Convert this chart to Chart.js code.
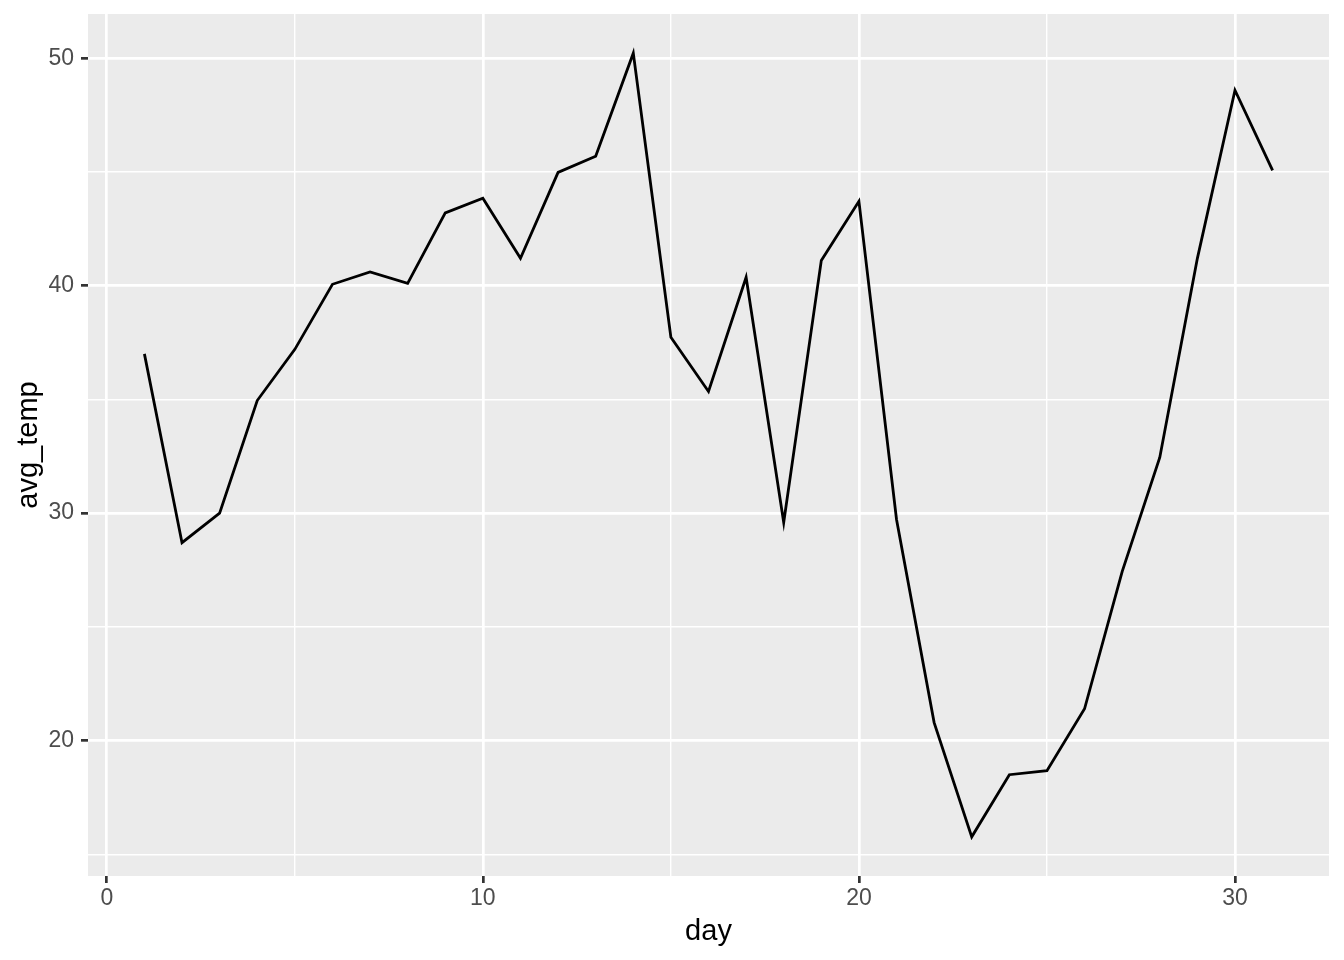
<!DOCTYPE html>
<html>
<head>
<meta charset="utf-8">
<script src="https://cdn.jsdelivr.net/npm/chart.js@4"></script>
<style>
  html, body { margin: 0; padding: 0; background: #fff; }
</style>
</head>
<body>
<canvas id="avg" width="1344" height="960"></canvas>
<script>
var days = [1,2,3,4,5,6,7,8,9,10,11,12,13,14,15,16,17,18,19,20,21,22,23,24,25,26,27,28,29,30,31];
var avgTemp = [37.0, 28.7, 30.0, 34.95, 37.2, 40.06, 40.6, 40.1, 43.2, 43.84, 41.2, 44.98, 45.69, 50.22, 37.73, 35.35,
               40.37, 29.59, 41.11, 43.71, 29.72, 20.79, 15.77, 18.5, 18.68, 21.4, 27.43, 32.45, 41.2, 48.59, 45.07];
var xTicks = [0, 5, 10, 15, 20, 25, 30];
var yTicks = [15, 20, 25, 30, 35, 40, 45, 50];

// ggplot style 5% expansion
var xLo = Math.min.apply(null, days), xHi = Math.max.apply(null, days);
var yLo = Math.min.apply(null, avgTemp), yHi = Math.max.apply(null, avgTemp);
var xPad = (xHi - xLo) * 0.05, yPad = (yHi - yLo) * 0.05;

var points = days.map(function(d, i) { return { x: d, y: avgTemp[i] }; });

var panelBg = {
  id: 'panelBg',
  beforeDraw: function(chart) {
    var a = chart.chartArea, c = chart.ctx;
    c.save();
    c.fillStyle = '#EBEBEB';
    c.fillRect(a.left, a.top, a.right - a.left, a.bottom - a.top);
    c.restore();
  }
};

function isMajor(ctx) { return ctx.tick && ctx.tick.value % 10 === 0; }

var tickFont = { family: '"Liberation Sans", Arial, Helvetica, sans-serif', size: 23 };
var titleFont = { family: '"Liberation Sans", Arial, Helvetica, sans-serif', size: 29 };

var gridOpts = {
  color: '#FFFFFF',
  lineWidth: function(ctx) { return isMajor(ctx) ? 2.7 : 1.4; },
  tickColor: function(ctx) { return isMajor(ctx) ? '#333333' : 'rgba(0,0,0,0)'; },
  tickWidth: 2.7,
  tickLength: 7,
  drawTicks: true
};

new Chart(document.getElementById('avg'), {
  type: 'line',
  data: {
    datasets: [{
      data: points,
      borderColor: '#000000',
      borderWidth: 2.8,
      pointRadius: 0,
      tension: 0,
      fill: false
    }]
  },
  plugins: [panelBg],
  options: {
    responsive: false,
    animation: false,
    layout: { padding: { top: 14, right: 15, left: 0, bottom: 0 } },
    plugins: { legend: { display: false }, tooltip: { enabled: false } },
    scales: {
      x: {
        type: 'linear',
        min: xLo - xPad,
        max: xHi + xPad,
        afterBuildTicks: function(s) { s.ticks = xTicks.map(function(v) { return { value: v }; }); },
        afterFit: function(s) { s.height = 84; s.paddingLeft = 0; s.paddingRight = 0; },
        grid: gridOpts,
        border: { display: false },
        ticks: {
          color: '#4D4D4D',
          font: tickFont,
          padding: 2,
          maxRotation: 0,
          callback: function(v) { return v % 10 === 0 ? String(v) : ''; }
        },
        title: { display: true, text: 'day', color: '#000000', font: titleFont, padding: { top: 0, bottom: 11 } }
      },
      y: {
        type: 'linear',
        min: yLo - yPad,
        max: yHi + yPad,
        afterBuildTicks: function(s) { s.ticks = yTicks.map(function(v) { return { value: v }; }); },
        afterFit: function(s) { s.width = 88; s.paddingTop = 0; s.paddingBottom = 0; },
        grid: gridOpts,
        border: { display: false },
        ticks: {
          color: '#4D4D4D',
          font: tickFont,
          padding: 7,
          callback: function(v) { return v % 10 === 0 ? String(v) : ''; }
        },
        title: { display: true, text: 'avg_temp', color: '#000000', font: titleFont, padding: { top: 12, bottom: 0 } }
      }
    }
  }
});
</script>
</body>
</html>
